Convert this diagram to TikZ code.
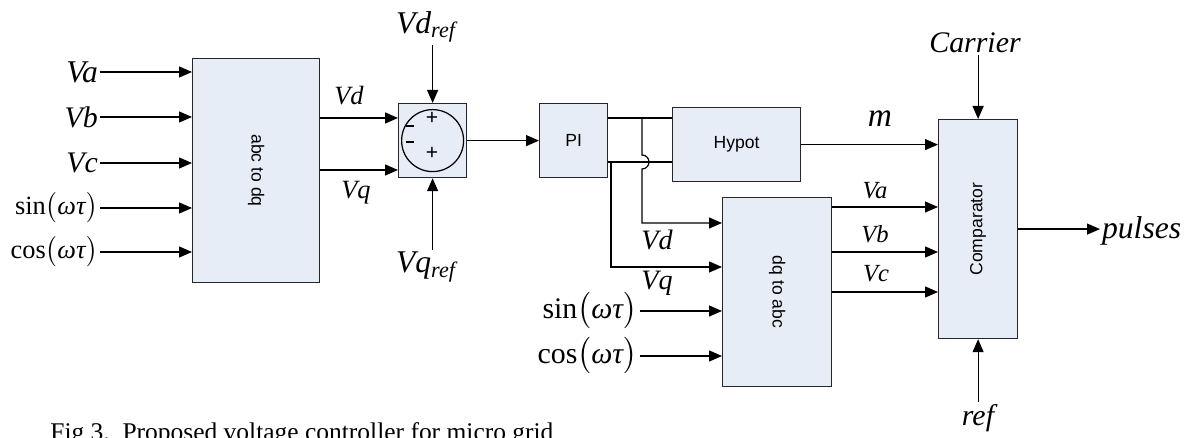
\documentclass[tikz,border=0pt]{standalone}
\usepackage{fix-cm}
\usepackage{amsmath}
\usepackage{fontspec}
\setmainfont{Liberation Serif}
\setsansfont{Liberation Sans}
\usepackage{graphicx}
\usepackage{tikz}
\usetikzlibrary{arrows.meta,positioning}
\definecolor{blkfill}{RGB}{231,237,247}
\tikzset{
  blk/.style={draw=black!85, fill=blkfill, line width=0.7pt, anchor=north west, inner sep=0pt,
    font=\sffamily\fontsize{10}{12}\selectfont},
  wire/.style={line width=0.7pt},
  sig/.style={line width=0.7pt, -{Triangle[length=2.6mm,width=2.2mm]}},
  lbl/.style={font=\itshape\fontsize{#1}{#1}\selectfont, inner sep=1pt},
  sgn/.style={font=\sffamily\fontsize{12}{12}\selectfont, inner sep=0pt}
}

\begin{document}
\begin{tikzpicture}[x=0.02cm,y=-0.02cm]
\useasboundingbox (0,0) rectangle (1197,438);

% blocks
\node[blk, minimum width=2.54cm, minimum height=4.48cm] (abc) at (192,58) {\rotatebox{-90}{abc to dq}};
\node[blk, minimum width=1.36cm, minimum height=1.48cm] (sum) at (398,103) {};
\node[blk, minimum width=1.36cm, minimum height=1.48cm] (pi) at (539,103) {PI};
\node[blk, minimum width=2.56cm, minimum height=1.48cm] (hyp) at (672,107) {Hypot};
\node[blk, minimum width=2.18cm, minimum height=3.78cm] (dq) at (722,197) {\rotatebox{-90}{dq to abc}};
\node[blk, minimum width=1.58cm, minimum height=4.38cm] (cmp) at (938,119) {\rotatebox{90}{Comparator}};

\draw[wire] (sum.center) circle[radius=31];
\node[sgn] (m1) at (410,126) {\rule{0.16cm}{0.8pt}};
\node[sgn] (p1) at (432,118) {+};
\node[sgn] (m2) at (410,142) {\rule{0.16cm}{0.8pt}};
\node[sgn] (p2) at (432,153) {+};

% abc to dq inputs
\node[lbl=18, anchor=east] (iVa) at (100,72) {Va};
\node[lbl=17, anchor=east] (iVb) at (100,117) {Vb};
\node[lbl=17, anchor=east] (iVc) at (100,163) {Vc};
\node[lbl=15, anchor=east] (isin) at (100,208) {\upshape sin$\bigl($\textit{ωτ}$\bigr)$};
\node[lbl=15, anchor=east] (icos) at (100,252) {\upshape cos$\bigl($\textit{ωτ}$\bigr)$};
\foreach \n in {iVa,iVb,iVc,isin,icos}
  \draw[sig] (\n.east) -- (\n.east -| abc.west);

% abc to dq -> summing block
\draw[sig] (abc.east |- 0,118) -- (sum.west |- 0,118);
\draw[sig] (abc.east |- 0,170) -- (sum.west |- 0,170);
\node[lbl=15] (oVd) at (349,96) {Vd};
\node[lbl=15] (oVq) at (356,193) {Vq};

\node[lbl=18] (rd) at (426,27) {Vd$_{\textit{ref}}$};
\node[lbl=18] (rq) at (426,267) {Vq$_{\textit{ref}}$};
\draw[sig] (rd.south -| sum.north) -- (sum.north);
\draw[sig] (rq.north -| sum.south) -- (sum.south);

\draw[sig] (sum.east) -- (pi.west);

% PI outputs
\coordinate (pd) at (642,118);
\coordinate (pq) at (611,162);
\draw[wire] (pi.east |- pd) -- (hyp.west |- pd);
\draw[wire] (pi.east |- pq) -- (hyp.west |- pq);
\draw[sig] (pd) -- (642,155) arc[start angle=-90, end angle=90, radius=7] |- (dq.west |- 0,223);
\draw[sig] (pq) |- (dq.west |- 0,267);
\node[lbl=16] (dVd) at (657,240) {Vd};
\node[lbl=16] (dVq) at (657,283) {Vq};

\node[lbl=17, anchor=east] (dsin) at (640,311) {\upshape sin$\bigl($\textit{ωτ}$\bigr)$};
\node[lbl=17, anchor=east] (dcos) at (640,356) {\upshape cos$\bigl($\textit{ωτ}$\bigr)$};
\draw[sig] (dsin.east) -- (dsin.east -| dq.west);
\draw[sig] (dcos.east) -- (dcos.east -| dq.west);

% comparator inputs
\draw[sig] (hyp.east) -- (hyp.east -| cmp.west);
\node[lbl=19] (om) at (880,119) {m};
\draw[sig] (dq.east |- 0,207) -- (cmp.west |- 0,207);
\draw[sig] (dq.east |- 0,252) -- (cmp.west |- 0,252);
\draw[sig] (dq.east |- 0,292) -- (cmp.west |- 0,292);
\node[lbl=14] (oVa) at (875,191) {Va};
\node[lbl=14] (oVb) at (875,234) {Vb};
\node[lbl=14] (oVc) at (876,274) {Vc};

\node[lbl=17] (car) at (975,43) {Carrier};
\draw[sig] (car.south -| cmp.north) -- (cmp.north);
\node[lbl=17] (rf) at (978,418) {ref};
\draw[sig] (rf.north -| cmp.south) -- (cmp.south);

\node[lbl=18, anchor=west] (pul) at (1100,231) {pulses};
\draw[sig] (cmp.east) -- (cmp.east -| pul.west);

\node[font=\fontsize{14.5}{16}\selectfont, anchor=base west, inner sep=0pt] (cap) at (50,441)
  {Fig 3.\enspace Proposed voltage controller for micro grid};
\end{tikzpicture}
\end{document}
